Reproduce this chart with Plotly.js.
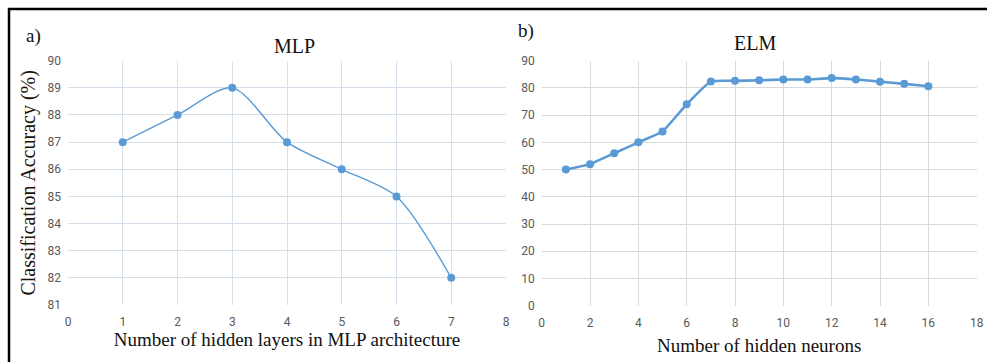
<!DOCTYPE html>
<html>
<head>
<meta charset="utf-8">
<script src="https://cdn.plot.ly/plotly-3.0.1.min.js"></script>
<style>html,body{margin:0;padding:0;background:#fff;}#chart{width:987px;height:362px;}</style>
</head>
<body>
<div id="chart"></div>
<script>
const mlpLayers = [1, 2, 3, 4, 5, 6, 7];
const mlpAccuracy = [87, 88, 89, 87, 86, 85, 82];
const elmNeurons = [1, 2, 3, 4, 5, 6, 7, 8, 9, 10, 11, 12, 13, 14, 15, 16];
const elmAccuracy = [50, 52, 56, 60, 64, 74, 82.4, 82.6, 82.8, 83.1, 83.1, 83.6, 83.1, 82.3, 81.5, 80.6];
const mlpXTicks = [0, 1, 2, 3, 4, 5, 6, 7, 8];
const mlpYTicks = [81, 82, 83, 84, 85, 86, 87, 88, 89, 90];
const elmXTicks = [0, 2, 4, 6, 8, 10, 12, 14, 16, 18];
const elmYTicks = [0, 10, 20, 30, 40, 50, 60, 70, 80, 90];

const blue = '#5b9bd5';
const tickFont = {family: 'Liberation Sans Narrow, Arial Narrow, Roboto, sans-serif', size: 12, color: '#595959'};
const serif = 'Liberation Serif, Times New Roman, serif';

const traces = [
  {x: mlpLayers, y: mlpAccuracy, type: 'scatter', mode: 'lines+markers', xaxis: 'x', yaxis: 'y',
   line: {color: blue, width: 1.4, shape: 'spline', smoothing: 0.8}, marker: {color: blue, size: 8}, showlegend: false},
  {x: elmNeurons, y: elmAccuracy, type: 'scatter', mode: 'lines+markers', xaxis: 'x2', yaxis: 'y2',
   line: {color: blue, width: 2.6, shape: 'spline', smoothing: 0.3}, marker: {color: blue, size: 8}, showlegend: false}
];

const axBase = {showgrid: true, zeroline: false, showline: false, ticks: '', tickfont: tickFont, fixedrange: true};

const layout = {
  width: 987, height: 362,
  margin: {l: 0, r: 0, t: 0, b: 0},
  paper_bgcolor: '#fff', plot_bgcolor: '#fff',
  xaxis: Object.assign({}, axBase, {domain: [68/987, 506/987], range: [0, 8], tickvals: mlpXTicks, gridcolor: '#d6dfec',
    ticklabelstandoff: 8, anchor: 'y',
    title: {text: 'Number of hidden layers in MLP architecture', font: {family: serif, size: 19, color: '#111'}, standoff: 4}}),
  yaxis: Object.assign({}, axBase, {domain: [1 - 305/362, 1 - 60.7/362], range: [81, 90], tickvals: mlpYTicks, gridcolor: '#d6dfec',
    ticklabelstandoff: 6, anchor: 'x',
    title: {text: 'Classification Accuracy (%)', font: {family: serif, size: 20, color: '#1a1208'}, standoff: 6}}),
  xaxis2: Object.assign({}, axBase, {domain: [541.7/987, 976.7/987], range: [0, 18], tickvals: elmXTicks, gridcolor: '#d9d9d9',
    ticklabelstandoff: 8, anchor: 'y2',
    title: {text: 'Number of hidden neurons', font: {family: serif, size: 19, color: '#111'}, standoff: 9}}),
  yaxis2: Object.assign({}, axBase, {domain: [1 - 305.7/362, 1 - 60.7/362], range: [0, 90], tickvals: elmYTicks, gridcolor: '#d9d9d9',
    ticklabelstandoff: 6, anchor: 'x2'}),
  annotations: [
    {text: 'MLP', xref: 'paper', yref: 'paper', x: 294/987, y: 1 - 46/362, xanchor: 'center', yanchor: 'middle', showarrow: false, font: {family: serif, size: 20, color: '#111'}},
    {text: 'ELM', xref: 'paper', yref: 'paper', x: 755/987, y: 1 - 43/362, xanchor: 'center', yanchor: 'middle', showarrow: false, font: {family: serif, size: 20, color: '#111'}},
    {text: 'a)', xref: 'paper', yref: 'paper', x: 33/987, y: 1 - 36/362, xanchor: 'center', yanchor: 'middle', showarrow: false, font: {family: serif, size: 19, color: '#111'}},
    {text: 'b)', xref: 'paper', yref: 'paper', x: 526/987, y: 1 - 31/362, xanchor: 'center', yanchor: 'middle', showarrow: false, font: {family: serif, size: 19, color: '#111'}}
  ],
  shapes: [
    {type: 'line', xref: 'paper', yref: 'paper', x0: 8/987, x1: 1, y0: 1 - 9/362, y1: 1 - 9/362, line: {color: '#000', width: 2.5}},
    {type: 'line', xref: 'paper', yref: 'paper', x0: 9/987, x1: 9/987, y0: 0, y1: 1 - 8/362, line: {color: '#000', width: 2.5}}
  ]
};

Plotly.newPlot('chart', traces, layout, {displayModeBar: false, staticPlot: true});
</script>
</body>
</html>
